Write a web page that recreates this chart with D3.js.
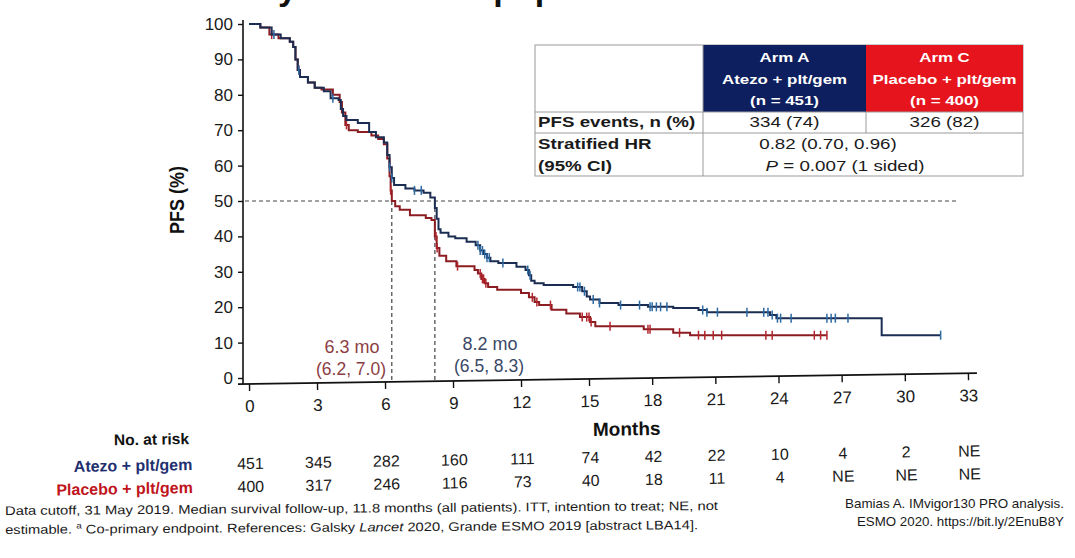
<!DOCTYPE html>
<html>
<head>
<meta charset="utf-8">
<script src="https://cdn.jsdelivr.net/npm/d3@7"></script>
<style>
  html, body { margin: 0; padding: 0; background: #fff; }
  svg { display: block; font-family: 'Liberation Sans', Arial, sans-serif; }
</style>
</head>
<body>
<script>
/* global d3 */
(function () {
  'use strict'

  // Page size
  var w = 1075
  var h = 558

  // Tick values
  var monthTicks = [0, 3, 6, 9, 12, 15, 18, 21, 24, 27, 30, 33]
  var pfsTicks = [0, 10, 20, 30, 40, 50, 60, 70, 80, 90, 100]

  // Kaplan-Meier steps (month, PFS % after the step)
  var atezoTimes = [0, 0.5, 1.0, 1.4, 1.8, 1.95, 2.05, 2.15, 2.25, 2.6, 2.9, 3.3, 3.6, 3.95, 4.05, 4.15, 4.3, 4.8, 5.3, 5.6, 5.95, 6.1, 6.2, 6.3, 6.4, 6.9, 7.3, 7.7, 8.0, 8.2, 8.28, 8.36, 8.45, 8.8, 9.1, 9.6, 10.0, 10.2, 10.35, 10.5, 10.65, 11.0, 11.8, 12.2, 12.35, 12.45, 12.6, 13.0, 14.3, 14.7, 14.9, 15.05, 15.5, 16.4, 17.8, 19.0, 20.2, 20.6, 23.6, 23.9, 28.9]
  var atezoPfs = [100, 99, 97, 96, 95, 93.5, 90, 87, 85, 83.5, 82, 81, 79, 78.5, 76, 74, 72.9, 72, 69.5, 68, 66.5, 63, 59.5, 56.5, 54.5, 53.5, 53, 52.3, 51, 48, 45, 42, 41, 40, 39.5, 38.5, 37.5, 36, 35, 34, 33, 32.5, 31.4, 30.5, 29, 27.5, 26.8, 26.3, 25.7, 24.5, 23, 22.2, 21.2, 20.6, 20.1, 19.8, 19.2, 18.6, 17.8, 16.9, 12.1]
  var atezoCensor = [1.1, 2.2, 3.7, 6.2, 6.3, 7.3, 7.6, 10.1, 10.2, 10.3, 10.4, 10.5, 10.6, 11.2, 12.3, 12.4, 14.5, 14.6, 14.8, 15.2, 15.5, 16.5, 17.4, 17.9, 18.0, 18.2, 18.4, 18.7, 20.4, 20.6, 21.1, 22.5, 23.3, 23.5, 23.7, 23.95, 24.1, 24.6, 26.3, 26.5, 26.7, 27.3, 31.7]

  var placeboTimes = [0, 0.5, 0.9, 1.3, 1.8, 1.95, 2.05, 2.15, 2.25, 2.6, 2.9, 3.2, 3.7, 4.0, 4.1, 4.25, 4.4, 4.8, 5.4, 5.7, 5.95, 6.1, 6.2, 6.25, 6.3, 6.45, 6.65, 7.1, 7.8, 8.05, 8.2, 8.28, 8.4, 8.7, 9.15, 9.95, 10.1, 10.25, 10.4, 10.55, 10.95, 12.0, 12.35, 12.6, 12.8, 13.35, 14.0, 14.6, 15.05, 15.3, 17.6, 19.0, 19.8]
  var placeboPfs = [100, 99, 97, 96, 95, 93.5, 90, 87, 85, 83.5, 82, 81.5, 80, 78, 75, 71.5, 70, 69.5, 68.5, 67.5, 66, 62, 57, 53, 50, 48.5, 47.5, 46, 45.2, 44.6, 40, 36.7, 34.5, 33, 31.6, 30.5, 29.5, 28, 26.8, 25.7, 24.9, 24, 22.8, 21.5, 20.6, 19.3, 18.2, 17.2, 15.8, 14.6, 13.8, 12.8, 12.1]
  var placeboCensor = [1.0, 2.2, 4.3, 6.25, 8.25, 8.3, 9.2, 10.2, 10.3, 10.35, 10.45, 12.5, 12.7, 13.3, 14.7, 14.9, 15.0, 15.1, 16.0, 17.8, 17.9, 19.3, 20.2, 20.5, 20.9, 21.3, 23.4, 23.7, 25.7, 26.0, 26.3]

  // Medians
  var medianMonths = [6.3, 8.2]
  var medianLabels = ['6.3 mo', '8.2 mo']
  var medianCis = ['(6.2, 7.0)', '(6.5, 8.3)']

  // Numbers at risk
  var riskNames = ['Atezo + plt/gem', 'Placebo + plt/gem']
  var atezoAtRisk = ['451', '345', '282', '160', '111', '74', '42', '22', '10', '4', '2', 'NE']
  var placeboAtRisk = ['400', '317', '246', '116', '73', '40', '18', '11', '4', 'NE', 'NE', 'NE']

  // Summary table
  var armTitles = ['Arm A', 'Arm C']
  var armNames = ['Atezo + plt/gem', 'Placebo + plt/gem']
  var armNs = ['(n = 451)', '(n = 400)']
  var pfsEvents = ['334 (74)', '326 (82)']
  var hazardRatio = '0.82 (0.70, 0.96)'
  var pValue = ' = 0.007 (1 sided)'

  // Colours
  var atezoLine = '#1b2d52'
  var atezoMark = '#2b6aa3'
  var placeboLine = '#8a1c22'
  var placeboMark = '#b3262d'

  // Scales (the photographed slide is slightly keystoned, so x uses three knots)
  var x = d3.scaleLinear().domain([0, 15, 33]).range([249, 589, 968])
  var y = d3.scaleLinear().domain([0, 100]).range([378, 24])
  var axisY = 384
  var tilt = 'rotate(-0.85 249 0)'

  var svg = d3.select('body').append('svg')
    .attr('width', w)
    .attr('height', h)

  // Text with a horizontal stretch like the photographed slide
  function stretched (parent, px, py, str, size, opts) {
    opts = opts || {}
    return parent.append('text')
      .attr('transform', 'translate(' + px + ',' + py + ') scale(' + (opts.sx || 1) + ',1)')
      .attr('text-anchor', opts.anchor || 'start')
      .attr('font-size', size)
      .attr('font-weight', opts.bold ? 'bold' : 'normal')
      .attr('fill', opts.fill || '#1a1a1a')
      .text(str)
  }

  // Cut-off slide title at the very top
  svg.append('text')
    .attr('x', 667)
    .attr('y', 0)
    .attr('text-anchor', 'end')
    .attr('font-size', 34)
    .attr('font-weight', 'bold')
    .attr('fill', '#111')
    .text('Efficacy: PFS in ITT population')

  // Left axis
  var leftAxis = d3.axisLeft(y).tickValues(pfsTicks).tickSize(5).tickSizeOuter(0).tickPadding(5)
  var gy = svg.append('g')
    .attr('transform', 'translate(243,0)')
    .call(leftAxis)
  gy.select('.domain').remove()
  gy.append('line')
    .attr('y1', y(100) - 4).attr('y2', axisY)
    .attr('stroke', '#111').attr('stroke-width', 1.6)
  gy.selectAll('.tick line').attr('stroke', '#111').attr('stroke-width', 1.4)
  gy.selectAll('.tick text')
    .attr('font-size', 17)
    .attr('font-family', 'Liberation Sans, Arial, sans-serif')
    .attr('fill', '#1a1a1a')

  svg.append('text')
    .attr('transform', 'translate(184,200) scale(1.15,1) rotate(-90)')
    .attr('text-anchor', 'middle')
    .attr('font-size', 18)
    .attr('font-weight', 'bold')
    .attr('fill', '#111')
    .text('PFS (%)')

  // Bottom axis, tilted a little as on the photo
  var bottom = svg.append('g')
    .attr('transform', 'translate(0,' + axisY + ') ' + tilt)
  var bottomAxis = d3.axisBottom(x).tickValues(monthTicks).tickSize(7).tickSizeOuter(0).tickPadding(9)
  var gx = bottom.append('g').call(bottomAxis)
  gx.select('.domain').remove()
  gx.selectAll('.tick line').attr('stroke', '#111').attr('stroke-width', 1.4)
  gx.selectAll('.tick text')
    .attr('font-size', 17)
    .attr('font-family', 'Liberation Sans, Arial, sans-serif')
    .attr('fill', '#1a1a1a')
  bottom.append('line')
    .attr('x1', 238).attr('x2', 977)
    .attr('stroke', '#111').attr('stroke-width', 1.8)

  stretched(bottom, 626, 57, 'Months', 19, { bold: true, anchor: 'middle', fill: '#111' })

  // 50% reference and median drop lines
  var dash = svg.append('g')
    .attr('stroke', '#444')
    .attr('stroke-width', 1.2)
    .attr('stroke-dasharray', '4,3')
  dash.append('line')
    .attr('x1', 245).attr('x2', 958)
    .attr('y1', y(50)).attr('y2', y(50))
  dash.selectAll('line.median')
    .data(medianMonths)
    .enter().append('line')
      .attr('class', 'median')
      .attr('x1', function (d) { return x(d) })
      .attr('x2', function (d) { return x(d) })
      .attr('y1', y(50))
      .attr('y2', axisY - 2)

  var medianColors = ['#8d3e42', '#3a4866']
  var medianX = [352, 490]
  var medianY = [353, 350]
  medianLabels.forEach(function (lab, i) {
    stretched(svg, medianX[i], medianY[i], lab, 18, { anchor: 'middle', fill: medianColors[i] })
    stretched(svg, medianX[i] - 1, medianY[i] + 22, medianCis[i], 17.5, { anchor: 'middle', fill: medianColors[i] })
  })

  // Kaplan-Meier curves
  var km = d3.line()
    .x(function (d) { return x(d[0]) })
    .y(function (d) { return y(d[1]) })
    .curve(d3.curveStepAfter)

  function steps (times, pfs, censor) {
    var pts = times.map(function (t, i) { return [t, pfs[i]] })
    pts.push([d3.max(censor), pfs[pfs.length - 1]])
    return pts
  }

  function valueAt (times, pfs, t) {
    var i = d3.bisectRight(times, t) - 1
    return pfs[Math.max(i, 0)]
  }

  var series = [
    { times: placeboTimes, pfs: placeboPfs, censor: placeboCensor, line: placeboLine, mark: placeboMark },
    { times: atezoTimes, pfs: atezoPfs, censor: atezoCensor, line: atezoLine, mark: atezoMark }
  ]

  series.forEach(function (s) {
    svg.append('path')
      .datum(steps(s.times, s.pfs, s.censor))
      .attr('d', km)
      .attr('fill', 'none')
      .attr('stroke', s.line)
      .attr('stroke-width', 2)

    svg.append('g').selectAll('line')
      .data(s.censor)
      .enter().append('line')
        .attr('x1', function (d) { return x(d) })
        .attr('x2', function (d) { return x(d) })
        .attr('y1', function (d) { return y(valueAt(s.times, s.pfs, d)) - 4.5 })
        .attr('y2', function (d) { return y(valueAt(s.times, s.pfs, d)) + 4.5 })
        .attr('stroke', s.mark)
        .attr('stroke-width', 1.5)
  })

  // Summary table
  var tbl = svg.append('g')
  var colX = [535, 703, 866, 1023]
  var rowY = [45, 112, 133, 176]
  var armFill = ['#0d1f5e', '#e5141d']

  tbl.append('rect')
    .attr('x', colX[0]).attr('y', rowY[0])
    .attr('width', colX[3] - colX[0]).attr('height', rowY[3] - rowY[0])
    .attr('fill', '#fff').attr('stroke', '#9a9a9a').attr('stroke-width', 1)

  armTitles.forEach(function (t, i) {
    var cx = (colX[i + 1] + colX[i + 2]) / 2
    tbl.append('rect')
      .attr('x', colX[i + 1]).attr('y', rowY[0])
      .attr('width', colX[i + 2] - colX[i + 1]).attr('height', rowY[1] - rowY[0])
      .attr('fill', armFill[i])
    stretched(tbl, cx, 62, t, 13.5, { bold: true, anchor: 'middle', fill: '#fff', sx: 1.25 })
    stretched(tbl, cx, 84, armNames[i], 13.5, { bold: true, anchor: 'middle', fill: '#fff', sx: 1.25 })
    stretched(tbl, cx, 105, armNs[i], 13.5, { bold: true, anchor: 'middle', fill: '#fff', sx: 1.25 })
    stretched(tbl, cx, 127, pfsEvents[i], 15, { anchor: 'middle', sx: 1.25 })
  })

  var grid = tbl.append('g').attr('stroke', '#9a9a9a').attr('stroke-width', 1)
  grid.append('line').attr('x1', colX[0]).attr('x2', colX[3]).attr('y1', rowY[1]).attr('y2', rowY[1])
  grid.append('line').attr('x1', colX[0]).attr('x2', colX[3]).attr('y1', rowY[2]).attr('y2', rowY[2])
  grid.append('line').attr('x1', colX[1]).attr('x2', colX[1]).attr('y1', rowY[0]).attr('y2', rowY[3])
  grid.append('line').attr('x1', colX[2]).attr('x2', colX[2]).attr('y1', rowY[1]).attr('y2', rowY[2])

  stretched(tbl, 538, 127, 'PFS events, n (%)', 15, { bold: true, sx: 1.25 })
  stretched(tbl, 538, 149, 'Stratified HR', 15, { bold: true, sx: 1.25 })
  stretched(tbl, 538, 171, '(95% CI)', 15, { bold: true, sx: 1.25 })
  stretched(tbl, 828, 149, hazardRatio, 15, { anchor: 'middle', sx: 1.25 })
  var pv = stretched(tbl, 845, 171, '', 15, { anchor: 'middle', sx: 1.25 })
  pv.append('tspan').attr('font-style', 'italic').text('P')
  pv.append('tspan').text(pValue)

  // Numbers at risk
  var risk = svg.append('g')
    .attr('transform', 'translate(0,' + axisY + ') rotate(-1 249 0)')
  stretched(risk, 188, 59, 'No. at risk', 15.5, { bold: true, anchor: 'end', fill: '#111' })
  var riskColors = ['#1f3070', '#c0141c']
  var riskRows = [atezoAtRisk, placeboAtRisk]
  var riskY = [85, 108]
  riskRows.forEach(function (row, r) {
    stretched(risk, 191, riskY[r], riskNames[r], 16, { bold: true, anchor: 'end', fill: riskColors[r] })
    risk.append('g').selectAll('text')
      .data(row)
      .enter().append('text')
        .attr('x', function (d, i) { return x(monthTicks[i]) })
        .attr('y', riskY[r])
        .attr('text-anchor', 'middle')
        .attr('font-size', 16)
        .attr('fill', '#1a1a1a')
        .text(function (d) { return d })
  })

  // Footnotes
  var foot = svg.append('g').attr('transform', 'rotate(-0.4 5 515)').attr('fill', '#1a1a1a')
  foot.append('text')
    .attr('x', 5).attr('y', 515)
    .attr('font-size', 12.5)
    .attr('textLength', 713).attr('lengthAdjust', 'spacingAndGlyphs')
    .text('Data cutoff, 31 May 2019. Median survival follow-up, 11.8 months (all patients). ITT, intention to treat; NE, not')
  var f2 = foot.append('text')
    .attr('x', 5).attr('y', 534)
    .attr('font-size', 12.5)
    .attr('textLength', 693).attr('lengthAdjust', 'spacingAndGlyphs')
  f2.append('tspan').text('estimable. ')
  f2.append('tspan').attr('font-size', 8.5).attr('dy', -5).text('a')
  f2.append('tspan').attr('dy', 5).text(' Co-primary endpoint. References: Galsky ')
  f2.append('tspan').attr('font-style', 'italic').text('Lancet')
  f2.append('tspan').text(' 2020, Grande ESMO 2019 [abstract LBA14].')

  var src = svg.append('g').attr('fill', '#1a1a1a')
  src.append('text')
    .attr('x', 1064).attr('y', 508)
    .attr('text-anchor', 'end')
    .attr('font-size', 13)
    .attr('textLength', 219).attr('lengthAdjust', 'spacingAndGlyphs')
    .text('Bamias A. IMvigor130 PRO analysis.')
  src.append('text')
    .attr('x', 1064).attr('y', 526)
    .attr('text-anchor', 'end')
    .attr('font-size', 13)
    .attr('textLength', 207).attr('lengthAdjust', 'spacingAndGlyphs')
    .text('ESMO 2020. https://bit.ly/2EnuB8Y')
}())
</script>
</body>
</html>
